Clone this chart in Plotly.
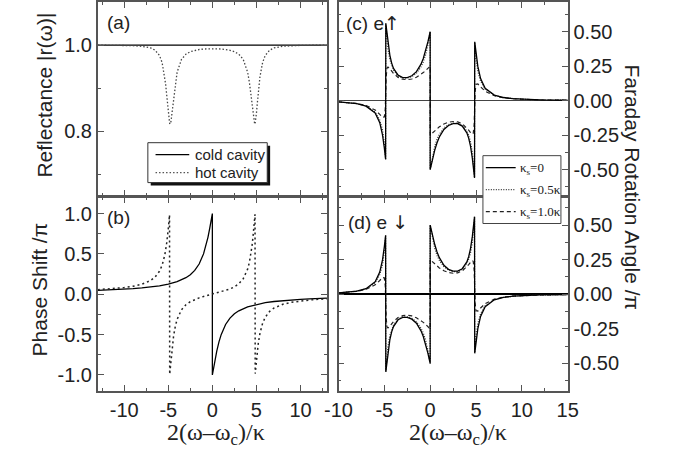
import plotly.graph_objects as go

W, H = 674, 455

# ---------------- data ----------------
# (a) reflectance
x_a_cold = [-13, 0, 13]
r_a_cold = [1.0, 1.0, 1.0]
x_a_hot = [-13, -12, -11, -10, -9, -8, -7, -6.5, -6, -5.7, -5.4, -5.3, -5.2, -5.1, -5.0, -4.95, -4.9, -4.85,
           -4.8, -4.75, -4.7, -4.6, -4.5, -4.4, -4.2, -4, -3.5, -3, -2.5, -2, -1.5, -1, -0.5,
           0, 0.5, 1, 1.5, 2, 2.5, 3, 3.5, 4, 4.2, 4.4, 4.5, 4.6, 4.7, 4.75, 4.8, 4.85, 4.9, 4.95,
           5.0, 5.1, 5.2, 5.3, 5.4, 5.7, 6, 6.5, 7, 8, 9, 10, 11, 12, 13]
r_a_hot = [0.9998, 0.9997, 0.9995, 0.9992, 0.9986, 0.9972, 0.9933, 0.9881, 0.9759, 0.9595, 0.9263, 0.9090,
           0.8883, 0.8648, 0.8416, 0.8315, 0.8236, 0.8184, 0.8164, 0.8178, 0.8222, 0.8379, 0.8584, 0.8792,
           0.9137, 0.9370, 0.9667, 0.9788, 0.9846, 0.9878, 0.9897, 0.9908, 0.9913,
           0.9915, 0.9913, 0.9908, 0.9897, 0.9878, 0.9846, 0.9788, 0.9667, 0.9370, 0.9137, 0.8792, 0.8584,
           0.8379, 0.8222, 0.8178, 0.8164, 0.8184, 0.8236, 0.8315, 0.8416, 0.8648, 0.8883, 0.9090, 0.9263,
           0.9595, 0.9759, 0.9881, 0.9933, 0.9972, 0.9986, 0.9992, 0.9995, 0.9997, 0.9998]

# (b) phase shift / pi
x_b_cold = [-13, -12, -11, -10, -9, -8, -7, -6, -5, -4, -3, -2.5, -2, -1.5, -1, -0.75, -0.5, -0.3, -0.2, -0.1, -0.05,
            0, 0,
            0.05, 0.1, 0.2, 0.3, 0.5, 0.75, 1, 1.5, 2, 2.5, 3, 4, 5, 6, 7, 8, 9, 10, 11, 12, 13]
phi_b_cold = [0.049, 0.053, 0.058, 0.064, 0.070, 0.079, 0.090, 0.105, 0.126, 0.156, 0.205, 0.242, 0.295, 0.374,
              0.5, 0.590, 0.705, 0.815, 0.874, 0.937, 0.968,
              1.0, -1.0,
              -0.968, -0.937, -0.874, -0.815, -0.705, -0.590, -0.5, -0.374, -0.295, -0.242, -0.205, -0.156,
              -0.126, -0.105, -0.090, -0.079, -0.070, -0.064, -0.058, -0.053, -0.049]
x_b_hot = [-13, -12, -11, -10, -9, -8, -7, -6.5, -6, -5.7, -5.4, -5.2, -5.0, -4.9, -4.86, -4.84, -4.8, -4.7, -4.6,
           -4.5, -4.4, -4.2, -4, -3.5, -3, -2.5, -2, -1.5, -1, -0.5,
           0,
           0.5, 1, 1.5, 2, 2.5, 3, 3.5, 4, 4.2, 4.4, 4.5, 4.6, 4.7, 4.8, 4.84, 4.86, 4.9, 5.0, 5.2, 5.4, 5.7,
           6, 6.5, 7, 8, 9, 10, 11, 12, 13]
phi_b_hot = [0.0567, 0.0632, 0.0715, 0.0828, 0.0988, 0.1241, 0.1705, 0.2124, 0.2846, 0.3590, 0.4837, 0.6173,
             0.8120, 0.9321, 0.9829, -0.9914, -0.9399, -0.8138, -0.6993, -0.6002, -0.5179, -0.3948, -0.3111,
             -0.1918, -0.1298, -0.0916, -0.0650, -0.0448, -0.0283, -0.0137,
             0.0,
             0.0137, 0.0283, 0.0448, 0.0650, 0.0916, 0.1298, 0.1918, 0.3111, 0.3948, 0.5179, 0.6002, 0.6993,
             0.8138, 0.9399, 0.9914, -0.9829, -0.9321, -0.8120, -0.6173, -0.4837, -0.3590, -0.2846, -0.2124,
             -0.1705, -0.1241, -0.0988, -0.0828, -0.0715, -0.0632, -0.0567]

# (c), (d) Faraday rotation / pi
x_cd = [-10, -9, -8, -7, -6, -5.5, -5.2, -5, -4.9, -4.86, -4.84, -4.8, -4.7, -4.6, -4.4, -4.2, -4, -3.5, -3,
        -2.5, -2, -1.5, -1, -0.75, -0.5, -0.25, -0.1,
        0, 0,
        0.1, 0.25, 0.5, 0.75, 1, 1.5, 2, 2.5, 3, 3.5, 4, 4.2, 4.4, 4.6, 4.7, 4.8, 4.84, 4.86, 4.9, 5, 5.2,
        5.5, 6, 7, 8, 9, 10, 12, 15]
theta_c_ks0 = [-0.0097, -0.0142, -0.0225, -0.0401, -0.0898, -0.1599, -0.2482, -0.3432, -0.4022, -0.4267,
               0.5606, 0.5354, 0.4737, 0.4178, 0.3301, 0.2718, 0.2336, 0.1845, 0.1673, 0.1669, 0.1801, 0.2096,
               0.2641, 0.3056, 0.3593, 0.4254, 0.4696,
               0.5, -0.5,
               -0.4696, -0.4254, -0.3593, -0.3056, -0.2641, -0.2096, -0.1801, -0.1669, -0.1673, -0.1845,
               -0.2336, -0.2718, -0.3301, -0.4178, -0.4737, -0.5354, -0.5606, 0.4267, 0.4022, 0.3432, 0.2482,
               0.1599, 0.0898, 0.0401, 0.0225, 0.0142, 0.0097, 0.0051, 0.0025]
theta_c_ks05 = [-0.0096, -0.0140, -0.0220, -0.0386, -0.0830, -0.1406, -0.2121, -0.3062, -0.3849, -0.4228,
                0.5577, 0.5187, 0.4338, 0.3731, 0.2979, 0.2521, 0.2215, 0.1795, 0.1637, 0.1626, 0.1736, 0.1985,
                0.2443, 0.2802, 0.3306, 0.4033, 0.4594,
                0.5, -0.5,
                -0.4594, -0.4033, -0.3306, -0.2802, -0.2443, -0.1985, -0.1736, -0.1626, -0.1637, -0.1795,
                -0.2215, -0.2521, -0.2979, -0.3731, -0.4338, -0.5187, -0.5577, 0.4228, 0.3849, 0.3062, 0.2121,
                0.1406, 0.0830, 0.0386, 0.0220, 0.0140, 0.0096, 0.0050, 0.0025]
theta_c_ks10 = [-0.0092, -0.0134, -0.0207, -0.0352, -0.0681, -0.0994, -0.1210, -0.1186, -0.0617, 0.0223,
                0.0824, 0.1741, 0.2371, 0.2434, 0.2312, 0.2136, 0.1972, 0.1685, 0.1548, 0.1517, 0.1568, 0.1697,
                0.1902, 0.2032, 0.2178, 0.2336, 0.2434,
                0.25, -0.25,
                -0.2434, -0.2336, -0.2178, -0.2032, -0.1902, -0.1697, -0.1568, -0.1517, -0.1548, -0.1685,
                -0.1972, -0.2136, -0.2312, -0.2434, -0.2371, -0.1741, -0.0824, -0.0223, 0.0617, 0.1186, 0.1210,
                0.0994, 0.0681, 0.0352, 0.0207, 0.0134, 0.0092, 0.0050, 0.0025]
theta_d_ks0 = [0.0097, 0.0142, 0.0225, 0.0401, 0.0898, 0.1599, 0.2482, 0.3432, 0.4022, 0.4267,
               -0.5606, -0.5354, -0.4737, -0.4178, -0.3301, -0.2718, -0.2336, -0.1845, -0.1673, -0.1669, -0.1801,
               -0.2096, -0.2641, -0.3056, -0.3593, -0.4254, -0.4696,
               -0.5, 0.5,
               0.4696, 0.4254, 0.3593, 0.3056, 0.2641, 0.2096, 0.1801, 0.1669, 0.1673, 0.1845,
               0.2336, 0.2718, 0.3301, 0.4178, 0.4737, 0.5354, 0.5606, -0.4267, -0.4022, -0.3432, -0.2482,
               -0.1599, -0.0898, -0.0401, -0.0225, -0.0142, -0.0097, -0.0051, -0.0025]
theta_d_ks05 = [0.0096, 0.0140, 0.0220, 0.0386, 0.0830, 0.1406, 0.2121, 0.3062, 0.3849, 0.4228,
                -0.5577, -0.5187, -0.4338, -0.3731, -0.2979, -0.2521, -0.2215, -0.1795, -0.1637, -0.1626,
                -0.1736, -0.1985, -0.2443, -0.2802, -0.3306, -0.4033, -0.4594,
                -0.5, 0.5,
                0.4594, 0.4033, 0.3306, 0.2802, 0.2443, 0.1985, 0.1736, 0.1626, 0.1637, 0.1795,
                0.2215, 0.2521, 0.2979, 0.3731, 0.4338, 0.5187, 0.5577, -0.4228, -0.3849, -0.3062, -0.2121,
                -0.1406, -0.0830, -0.0386, -0.0220, -0.0140, -0.0096, -0.0050, -0.0025]
theta_d_ks10 = [0.0092, 0.0134, 0.0207, 0.0352, 0.0681, 0.0994, 0.1210, 0.1186, 0.0617, -0.0223,
                -0.0824, -0.1741, -0.2371, -0.2434, -0.2312, -0.2136, -0.1972, -0.1685, -0.1548, -0.1517,
                -0.1568, -0.1697, -0.1902, -0.2032, -0.2178, -0.2336, -0.2434,
                -0.25, 0.25,
                0.2434, 0.2336, 0.2178, 0.2032, 0.1902, 0.1697, 0.1568, 0.1517, 0.1548, 0.1685,
                0.1972, 0.2136, 0.2312, 0.2434, 0.2371, 0.1741, 0.0824, 0.0223, -0.0617, -0.1186, -0.1210,
                -0.0994, -0.0681, -0.0352, -0.0207, -0.0134, -0.0092, -0.0050, -0.0025]

# tick labels
left_x_ticks = [-10, -5, 0, 5, 10]
left_x_text = ["-10", "-5", "0", "5", "10"]
right_x_ticks = [-10, -5, 0, 5, 10, 15]
right_x_text = ["-10", "-5", "0", "5", "10", "15"]
a_y_ticks = [0.8, 1.0]
a_y_text = ["0.8", "1.0"]
b_y_ticks = [-1.0, -0.5, 0.0, 0.5, 1.0]
b_y_text = ["-1.0", "-0.5", "0.0", "0.5", "1.0"]
cd_y_ticks = [-0.5, -0.25, 0.0, 0.25, 0.5]
cd_y_text = ["-0.50", "-0.25", "0.00", "0.25", "0.50"]

# ---------------- layout helpers ----------------
def PX(px):
    return px / W


def PY(py):
    return 1 - py / H


LW = 1.6            # frame line width
L0, L1, R0, R1 = 87, 325, 337, 575
T0, MID, B0 = 1, 196, 391
MID_A = MID - LW / 2   # bottom of upper panels
MID_B = MID + LW / 2   # top of lower panels

SANS = "Liberation Sans, Arial, Helvetica, sans-serif"
SERIF = "Liberation Serif, Times New Roman, serif"
FRAME = "#555555"
TXT = "#222222"

fig = go.Figure()

solid = dict(color="black", width=1.3)
dot_a = dict(color="#444444", width=1.3, dash="1.5px,2px")
dot_b = dict(color="#222222", width=1.5, dash="2px,3px")
dot_c = dict(color="#333333", width=1.2, dash="1px,1.5px")
dashed = dict(color="#222222", width=1.2, dash="4px,3px")

fig.add_trace(go.Scatter(x=x_a_cold, y=r_a_cold, mode="lines", line=solid, xaxis="x", yaxis="y"))
fig.add_trace(go.Scatter(x=x_a_hot, y=r_a_hot, mode="lines", line=dot_a, xaxis="x", yaxis="y"))
fig.add_trace(go.Scatter(x=x_b_cold, y=phi_b_cold, mode="lines", line=solid, xaxis="x2", yaxis="y2"))
fig.add_trace(go.Scatter(x=x_b_hot, y=phi_b_hot, mode="lines", line=dot_b, xaxis="x2", yaxis="y2"))
for ys, ln in ((theta_c_ks10, dashed), (theta_c_ks05, dot_c), (theta_c_ks0, solid)):
    fig.add_trace(go.Scatter(x=x_cd, y=ys, mode="lines", line=ln, xaxis="x3", yaxis="y3"))
for ys, ln in ((theta_d_ks10, dashed), (theta_d_ks05, dot_c), (theta_d_ks0, solid)):
    fig.add_trace(go.Scatter(x=x_cd, y=ys, mode="lines", line=ln, xaxis="x4", yaxis="y4"))


def axis(**kw):
    base = dict(showline=True, linecolor=FRAME, linewidth=LW, mirror="ticks", ticks="inside",
                ticklen=6, tickwidth=1.2, tickcolor=FRAME, showgrid=False, zeroline=False,
                tickfont=dict(family=SANS, size=20, color=TXT), fixedrange=True, tickmode="array")
    base.update(kw)
    return base


def minor(vals):
    return dict(ticks="inside", ticklen=3, tickwidth=1, tickcolor=FRAME, tickvals=vals, showgrid=False)


left_minor_x = [-12.5, -7.5, -2.5, 2.5, 7.5, 12.5]
right_minor_x = [-7.5, -2.5, 2.5, 7.5, 12.5]
cd_minor_y = [-0.625, -0.375, -0.125, 0.125, 0.375, 0.625]

fig.update_layout(
    width=W, height=H, autosize=False,
    margin=dict(l=0, r=0, t=0, b=0),
    paper_bgcolor="white", plot_bgcolor="white", showlegend=False,
    xaxis=axis(domain=[PX(L0), PX(L1)], anchor="y", range=[-13, 13], tickvals=left_x_ticks,
               showticklabels=False, minor=minor(left_minor_x)),
    yaxis=axis(domain=[PY(MID_A), PY(T0)], anchor="x", range=[0.65, 1.10], tickvals=a_y_ticks,
               ticktext=a_y_text, minor=minor([0.7, 0.9])),
    xaxis2=axis(domain=[PX(L0), PX(L1)], anchor="y2", range=[-13, 13], tickvals=left_x_ticks,
                ticktext=left_x_text, minor=minor(left_minor_x)),
    yaxis2=axis(domain=[PY(B0), PY(MID_B)], anchor="x2", range=[-1.2, 1.2], tickvals=b_y_ticks,
                ticktext=b_y_text, minor=minor([-0.75, -0.25, 0.25, 0.75])),
    xaxis3=axis(domain=[PX(R0), PX(R1)], anchor="y3", range=[-10, 15], tickvals=right_x_ticks,
                showticklabels=False, minor=minor(right_minor_x)),
    yaxis3=axis(domain=[PY(MID_A), PY(T0)], anchor="x3", side="right", range=[-0.69, 0.715],
                tickvals=cd_y_ticks, ticktext=cd_y_text, minor=minor(cd_minor_y),
                zeroline=True, zerolinecolor="#444444", zerolinewidth=1),
    xaxis4=axis(domain=[PX(R0), PX(R1)], anchor="y4", range=[-10, 15], tickvals=right_x_ticks,
                ticktext=right_x_text, minor=minor(right_minor_x)),
    yaxis4=axis(domain=[PY(B0), PY(MID_B)], anchor="x4", side="right", range=[-0.7, 0.7],
                tickvals=cd_y_ticks, ticktext=cd_y_text, minor=minor(cd_minor_y),
                zeroline=True, zerolinecolor="black", zerolinewidth=2),
)

ann = []


def text(px, py, s, size=18, family=SANS, angle=0, xanchor="center", yanchor="middle", color=TXT):
    ann.append(dict(x=PX(px), y=PY(py), xref="paper", yref="paper", text=s, showarrow=False,
                    font=dict(family=family, size=size, color=color), textangle=angle,
                    xanchor=xanchor, yanchor=yanchor))


ARROW = "font-family:'DejaVu Sans';"
# axis titles
text(32, 94, "Reflectance |r(ω)|", size=21, angle=-90)
text(26, 289, "Phase Shift /π", size=21, angle=-90)
text(642, 187, "Faraday Rotation Angle /π", size=21, angle=90)
text(210, 434, "2(ω–ω<sub>c</sub>)/κ", size=24, family=SERIF)
text(461, 434, "2(ω–ω<sub>c</sub>)/κ", size=24, family=SERIF)
# panel labels
text(94, 22, "(a)", size=19, xanchor="left")
text(94, 217, "(b)", size=19, xanchor="left")
text(343, 22, "(c) e<span style=\"" + ARROW + "\">↑</span>", size=19, xanchor="left")
text(345, 221, "(d) e <span style=\"" + ARROW + "\">↓</span>", size=19, xanchor="left")

shapes = []
# legend (a) with shadow
shapes.append(dict(type="rect", xref="paper", yref="paper", x0=PX(142), x1=PX(266), y0=PY(185), y1=PY(145),
                   fillcolor="#111111", line=dict(width=0), layer="above"))
shapes.append(dict(type="rect", xref="paper", yref="paper", x0=PX(139), x1=PX(263), y0=PY(182), y1=PY(142),
                   fillcolor="white", line=dict(color="#333333", width=1), layer="above"))
shapes.append(dict(type="line", xref="paper", yref="paper", x0=PX(147), x1=PX(182), y0=PY(154), y1=PY(154),
                   line=solid, layer="above"))
shapes.append(dict(type="line", xref="paper", yref="paper", x0=PX(147), x1=PX(182), y0=PY(172), y1=PY(172),
                   line=dict(color="#555555", width=1.3, dash="1.5px,2px"), layer="above"))
text(186, 154, "cold cavity", size=15, xanchor="left")
text(186, 172, "hot cavity", size=15, xanchor="left")

# legend (c)/(d)
shapes.append(dict(type="rect", xref="paper", yref="paper", x0=PX(487), x1=PX(568), y0=PY(223), y1=PY(155),
                   fillcolor="white", line=dict(color="#444444", width=1), layer="above"))
for yy, ln, lab in ((167, solid, "κ<sub>s</sub>=0"), (189, dot_c, "κ<sub>s</sub>=0.5κ"),
                    (211, dashed, "κ<sub>s</sub>=1.0κ")):
    shapes.append(dict(type="line", xref="paper", yref="paper", x0=PX(490), x1=PX(521), y0=PY(yy), y1=PY(yy),
                       line=ln, layer="above"))
    text(523, yy + 1, lab, size=13, family=SERIF, xanchor="left")

fig.update_layout(annotations=ann, shapes=shapes)
fig.write_html("out.html", config={"displayModeBar": False},
               post_script="document.body.style.margin='0';document.body.style.overflow='hidden';")
